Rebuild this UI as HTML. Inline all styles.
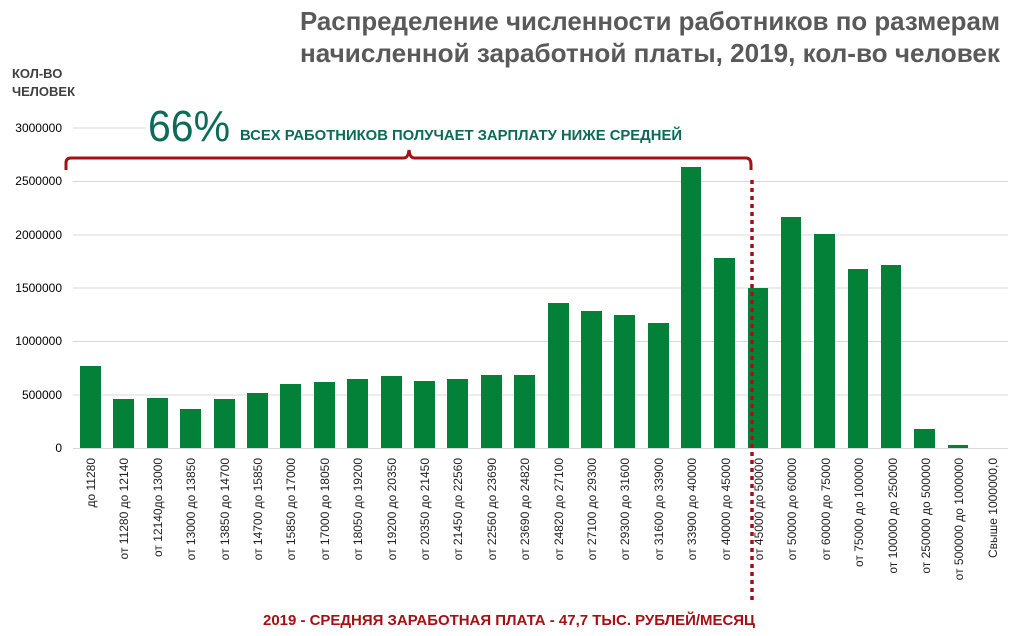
<!DOCTYPE html>
<html><head><meta charset="utf-8"><style>
html,body{margin:0;padding:0;background:#fff;}
svg{display:block;font-family:"Liberation Sans",sans-serif;}
</style></head><body>
<svg width="1011" height="636" viewBox="0 0 1011 636" xmlns="http://www.w3.org/2000/svg">
<text x="1000" y="30" text-anchor="end" font-size="26" font-weight="bold" fill="#595959" textLength="700" lengthAdjust="spacingAndGlyphs">Распределение численности работников по размерам</text>
<text x="1000" y="62" text-anchor="end" font-size="26" font-weight="bold" fill="#595959" textLength="700" lengthAdjust="spacingAndGlyphs">начисленной заработной платы, 2019, кол-во человек</text>
<text x="12" y="78" font-size="13" font-weight="bold" fill="#404040">КОЛ-ВО</text>
<text x="12" y="96" font-size="13" font-weight="bold" fill="#404040">ЧЕЛОВЕК</text>
<g stroke="#d9d9d9" stroke-width="1">
<line x1="73" y1="128" x2="146" y2="128"/>
<line x1="73" y1="181.5" x2="1008" y2="181.5"/>
<line x1="73" y1="235" x2="1008" y2="235"/>
<line x1="73" y1="288" x2="1008" y2="288"/>
<line x1="73" y1="341.5" x2="1008" y2="341.5"/>
<line x1="73" y1="395" x2="1008" y2="395"/>
<line x1="73" y1="448.5" x2="1008" y2="448.5"/>
</g>
<g font-size="12" fill="#000" text-anchor="end">
<text x="62" y="132">3000000</text>
<text x="62" y="185">2500000</text>
<text x="62" y="239">2000000</text>
<text x="62" y="292">1500000</text>
<text x="62" y="345">1000000</text>
<text x="62" y="399">500000</text>
<text x="62" y="452">0</text>
</g>
<text x="148" y="141" font-size="44" fill="#0b6b57" textLength="82" lengthAdjust="spacingAndGlyphs">66%</text>
<text x="240" y="140" font-size="15" font-weight="bold" fill="#0b6b57" textLength="442" lengthAdjust="spacingAndGlyphs">ВСЕХ РАБОТНИКОВ ПОЛУЧАЕТ ЗАРПЛАТУ НИЖЕ СРЕДНЕЙ</text>
<path d="M66,170 L66,163 Q66,158 71,158 L404,158 Q408,158 409,150 Q410,158 414,158 L746,158 Q751,158 751,165 L751,170" fill="none" stroke="#a50f15" stroke-width="3"/>
<g fill="#038139">
<rect x="80" y="366" width="21" height="82"/>
<rect x="113" y="399" width="21" height="49"/>
<rect x="147" y="398" width="21" height="50"/>
<rect x="180" y="409" width="21" height="39"/>
<rect x="214" y="399" width="21" height="49"/>
<rect x="247" y="393" width="21" height="55"/>
<rect x="280" y="384" width="21" height="64"/>
<rect x="314" y="382" width="21" height="66"/>
<rect x="347" y="379" width="21" height="69"/>
<rect x="381" y="376" width="21" height="72"/>
<rect x="414" y="381" width="21" height="67"/>
<rect x="447" y="379" width="21" height="69"/>
<rect x="481" y="375" width="21" height="73"/>
<rect x="514" y="375" width="21" height="73"/>
<rect x="548" y="303" width="21" height="145"/>
<rect x="581" y="311" width="21" height="137"/>
<rect x="614" y="315" width="21" height="133"/>
<rect x="648" y="323" width="21" height="125"/>
<rect x="681" y="167" width="20" height="281"/>
<rect x="714" y="258" width="21" height="190"/>
<rect x="748" y="288" width="20" height="160"/>
<rect x="781" y="217" width="20" height="231"/>
<rect x="814" y="234" width="21" height="214"/>
<rect x="848" y="269" width="20" height="179"/>
<rect x="881" y="265" width="20" height="183"/>
<rect x="914" y="429" width="21" height="19"/>
<rect x="948" y="445" width="20" height="3"/>
</g>
<line x1="752" y1="180" x2="752" y2="600" stroke="#a50f15" stroke-width="3.5" stroke-dasharray="4,4"/>
<g font-size="12" fill="#222" text-anchor="end">
<text transform="translate(95,458) rotate(-90)">до  11280</text>
<text transform="translate(128,458) rotate(-90)">от 11280 до 12140</text>
<text transform="translate(162,458) rotate(-90)">от 12140до 13000</text>
<text transform="translate(195,458) rotate(-90)">от 13000 до 13850</text>
<text transform="translate(229,458) rotate(-90)">от 13850 до 14700</text>
<text transform="translate(262,458) rotate(-90)">от 14700 до 15850</text>
<text transform="translate(295,458) rotate(-90)">от 15850 до 17000</text>
<text transform="translate(329,458) rotate(-90)">от 17000  до 18050</text>
<text transform="translate(362,458) rotate(-90)">от 18050 до 19200</text>
<text transform="translate(396,458) rotate(-90)">от 19200 до 20350</text>
<text transform="translate(429,458) rotate(-90)">от 20350 до 21450</text>
<text transform="translate(462,458) rotate(-90)">от 21450 до 22560</text>
<text transform="translate(496,458) rotate(-90)">от 22560 до 23690</text>
<text transform="translate(529,458) rotate(-90)">от 23690 до 24820</text>
<text transform="translate(563,458) rotate(-90)">от 24820 до 27100</text>
<text transform="translate(596,458) rotate(-90)">от 27100 до 29300</text>
<text transform="translate(629,458) rotate(-90)">от 29300 до 31600</text>
<text transform="translate(663,458) rotate(-90)">от 31600 до 33900</text>
<text transform="translate(696,458) rotate(-90)">от 33900 до 40000</text>
<text transform="translate(730,458) rotate(-90)">от 40000 до 45000</text>
<text transform="translate(763,458) rotate(-90)">от 45000 до 50000</text>
<text transform="translate(796,458) rotate(-90)">от 50000 до 60000</text>
<text transform="translate(830,458) rotate(-90)">от 60000 до 75000</text>
<text transform="translate(863,458) rotate(-90)">от 75000 до 100000</text>
<text transform="translate(897,458) rotate(-90)">от 100000 до 250000</text>
<text transform="translate(930,458) rotate(-90)">от 250000 до 500000</text>
<text transform="translate(963,458) rotate(-90)">от 500000 до 1000000</text>
<text transform="translate(997,458) rotate(-90)">Свыше 1000000,0</text>
</g>
<text x="263" y="625" font-size="15" font-weight="bold" fill="#a50f15" textLength="492" lengthAdjust="spacingAndGlyphs">2019 - СРЕДНЯЯ ЗАРАБОТНАЯ ПЛАТА - 47,7 ТЫС. РУБЛЕЙ/МЕСЯЦ</text>
</svg>
</body></html>
